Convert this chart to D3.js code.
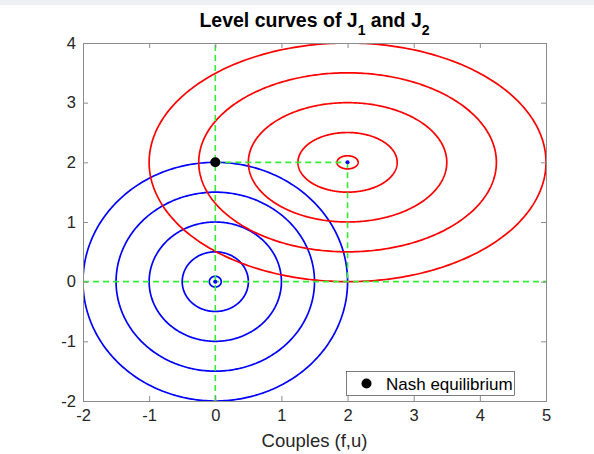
<!DOCTYPE html>
<html>
<head>
<meta charset="utf-8">
<script src="https://cdn.jsdelivr.net/npm/d3@7"></script>
<style>
  html, body { margin: 0; padding: 0; background: #ffffff; }
  svg { display: block; font-family: "Liberation Sans", Arial, Helvetica, sans-serif; }
</style>
</head>
<body>
<svg id="chart" width="594" height="454"></svg>
<script>
// Level sets of J1 (circles round the origin) and J2 (ellipses round (2,2))
const j1Center = [0, 0];
const j1Radii = [2, 1.5, 1, 0.5, 0.09];

const j2Center = [2, 2];
const j2SemiX = [3, 2.25, 1.5, 0.75, 0.16];
const j2SemiY = [2, 1.5, 1, 0.5, 0.11];

// Nash equilibrium and the two unconstrained minimisers
const nashPoint = [0, 2];
const minimisers = [[0, 0], [2, 2]];

// Dashed guide segments [x0, y0, x1, y1]
const guides = [
  [-2, 0, 5, 0],
  [0, -2, 0, 4],
  [0, 2, 2, 2],
  [2, 2, 2, 0]
];

const xTicks = [-2, -1, 0, 1, 2, 3, 4, 5];
const yTicks = [-2, -1, 0, 1, 2, 3, 4];

const svg = d3.select("#chart");
const W = 594, H = 454;
const m = { left: 83, right: 546, top: 43, bottom: 401 };
const fontFamily = "'Liberation Sans', Arial, Helvetica, sans-serif";

svg.append("rect").attr("x", 0).attr("y", 0).attr("width", W).attr("height", H).attr("fill", "#ffffff");
svg.append("rect").attr("x", 0).attr("y", 0).attr("width", W).attr("height", 5).attr("fill", "#eef0f4");

const x = d3.scaleLinear().domain([-2, 5]).range([m.left, m.right]);
const y = d3.scaleLinear().domain([-2, 4]).range([m.bottom, m.top]);

const clipId = "plotclip";
svg.append("clipPath").attr("id", clipId)
  .append("rect").attr("x", m.left).attr("y", m.top)
  .attr("width", m.right - m.left).attr("height", m.bottom - m.top);

const plot = svg.append("g").attr("clip-path", `url(#${clipId})`);

const angles = d3.range(0, 361, 1).map(d => d * Math.PI / 180);
const curve = d3.line().x(d => x(d[0])).y(d => y(d[1]));

function ellipse(c, a, b) {
  return angles.map(t => [c[0] + a * Math.cos(t), c[1] + b * Math.sin(t)]);
}

// J1 level curves
plot.selectAll("path.j1").data(j1Radii).enter().append("path")
  .attr("class", "j1")
  .attr("d", r => curve(ellipse(j1Center, r, r)))
  .attr("fill", "none").attr("stroke", "#0000ff").attr("stroke-width", 1.7);

// J2 level curves
plot.selectAll("path.j2").data(j2SemiX).enter().append("path")
  .attr("class", "j2")
  .attr("d", (a, i) => curve(ellipse(j2Center, a, j2SemiY[i])))
  .attr("fill", "none").attr("stroke", "#ff0000").attr("stroke-width", 1.7);

// Guides
plot.selectAll("line.guide").data(guides).enter().append("line")
  .attr("x1", d => x(d[0])).attr("y1", d => y(d[1]))
  .attr("x2", d => x(d[2])).attr("y2", d => y(d[3]))
  .attr("stroke", "#33ee33").attr("stroke-width", 1.6)
  .attr("stroke-dasharray", "6,4");

// Minimisers
plot.selectAll("circle.min").data(minimisers).enter().append("circle")
  .attr("cx", d => x(d[0])).attr("cy", d => y(d[1])).attr("r", 2)
  .attr("fill", "#0000ff");

// Nash equilibrium
plot.append("circle")
  .attr("cx", x(nashPoint[0])).attr("cy", y(nashPoint[1])).attr("r", 5)
  .attr("fill", "#000000");

// Axes box with inward ticks on all four sides
const axisColor = "#8c8c8c";
const tickLen = 5;
const axes = svg.append("g");

const gB = axes.append("g").attr("transform", `translate(0,${m.bottom})`)
  .call(d3.axisBottom(x).tickValues(xTicks).tickSize(-tickLen).tickPadding(8).tickFormat(d3.format("d")));
axes.append("g").attr("transform", `translate(0,${m.top})`)
  .call(d3.axisTop(x).tickValues(xTicks).tickSize(-tickLen).tickFormat(""));
const gL = axes.append("g").attr("transform", `translate(${m.left},0)`)
  .call(d3.axisLeft(y).tickValues(yTicks).tickSize(-tickLen).tickPadding(7).tickFormat(d3.format("d")));
axes.append("g").attr("transform", `translate(${m.right},0)`)
  .call(d3.axisRight(y).tickValues(yTicks).tickSize(-tickLen).tickFormat(""));

[gB, gL].forEach(g => g.attr("font-size", 16.5).attr("font-family", fontFamily));

axes.selectAll(".domain").attr("stroke", axisColor).attr("stroke-width", 1);
axes.selectAll(".tick line").attr("stroke", axisColor).attr("stroke-width", 1);
axes.selectAll(".tick text")
  .attr("fill", "#262626")
  .text(function () { return d3.select(this).text().replace("\u2212", "-"); });

// Title with subscripts
const title = svg.append("text")
  .attr("x", (m.left + m.right) / 2).attr("y", 27)
  .attr("text-anchor", "middle")
  .attr("fill", "#000000")
  .attr("font-family", fontFamily)
  .attr("font-weight", "bold").attr("font-size", 19.5);
title.append("tspan").text("Level curves of J");
title.append("tspan").attr("dy", 8).attr("font-size", 14).text("1");
title.append("tspan").attr("dy", -8).text(" and J");
title.append("tspan").attr("dy", 8).attr("font-size", 14).text("2");

// x label
svg.append("text")
  .attr("x", (m.left + m.right) / 2).attr("y", 447)
  .attr("text-anchor", "middle")
  .attr("fill", "#262626")
  .attr("font-family", fontFamily)
  .attr("font-size", 18.5)
  .text("Couples (f,u)");

// Legend
const legend = svg.append("g");
legend.append("rect")
  .attr("x", 346.5).attr("y", 371.5).attr("width", 168).attr("height", 24)
  .attr("fill", "#ffffff").attr("stroke", "#262626").attr("stroke-width", 0.6);
legend.append("circle").attr("cx", 366.5).attr("cy", 383.5).attr("r", 5).attr("fill", "#000000");
legend.append("text")
  .attr("x", 386).attr("y", 389.5)
  .attr("fill", "#000000")
  .attr("font-family", fontFamily)
  .attr("font-size", 17)
  .text("Nash equilibrium");
</script>
</body>
</html>
